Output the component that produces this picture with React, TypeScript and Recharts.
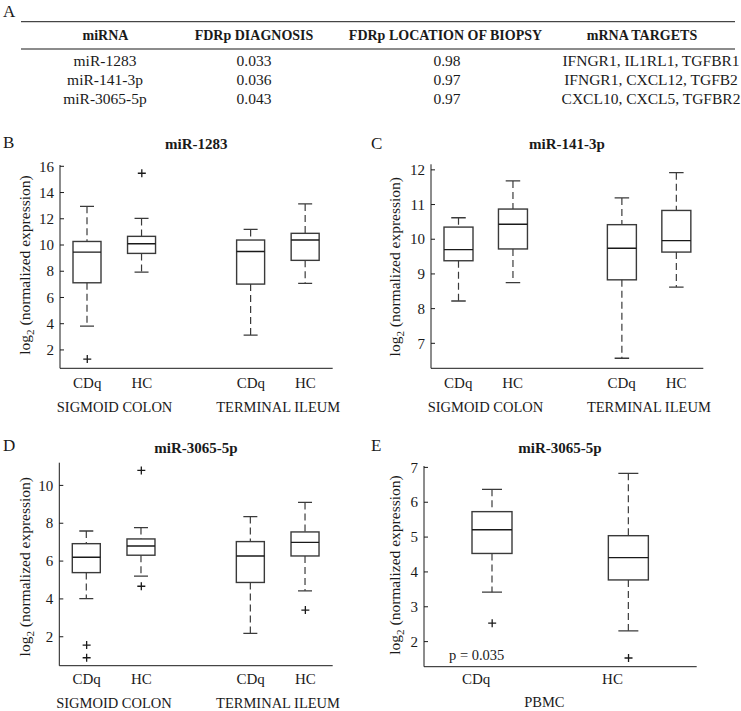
import React from 'react';
import { ComposedChart, Bar, Scatter, XAxis, YAxis } from 'recharts';

const SERIF = '"Liberation Serif", "Times New Roman", Times, serif';
const INK = '#1a1a1a';
const LINE = '#3a3a3a';

// ---------- Panel A: table ----------
const tableHeaders = ['miRNA', 'FDRp DIAGNOSIS', 'FDRp LOCATION OF BIOPSY', 'mRNA TARGETS'];
const tableMirna = ['miR-1283', 'miR-141-3p', 'miR-3065-5p'];
const tableFdrDiagnosis = ['0.033', '0.036', '0.043'];
const tableFdrLocation = ['0.98', '0.97', '0.97'];
const tableTargets = ['IFNGR1, IL1RL1, TGFBR1', 'IFNGR1, CXCL12, TGFB2', 'CXCL10, CXCL5, TGFBR2'];

// ---------- categories ----------
const biopsyCategories = ['CDq', 'HC', '', 'CDq', 'HC'];
// group label drawn under the HC tick of each pair, centred between the pair
const biopsyGroupAt = [1, 4];
const biopsyGroups = ['SIGMOID COLON', 'TERMINAL ILEUM'];
const pbmcCategories = ['CDq', 'HC'];
const pbmcGroupAt = [1];
const pbmcGroups = ['PBMC'];

// boxes: [lower whisker, Q1, median, Q3, upper whisker]
// ---------- Panel B: miR-1283 ----------
const mir1283Boxes = [
  [3.82, 7.12, 9.46, 10.27, 12.95],
  [7.94, 9.36, 10.1, 10.66, 12.03],
  null,
  [3.13, 7.02, 9.51, 10.38, 11.19],
  [7.07, 8.83, 10.38, 10.89, 13.13],
];
const mir1283Outliers = [[1.3], [15.47], [], [], []];
const mir1283Ticks = [2, 4, 6, 8, 10, 12, 14, 16];

// ---------- Panel C: miR-141-3p ----------
const mir141Boxes = [
  [8.22, 9.38, 9.7, 10.35, 10.62],
  [8.75, 9.72, 10.43, 10.87, 11.68],
  null,
  [6.57, 8.83, 9.74, 10.42, 11.19],
  [8.62, 9.63, 9.96, 10.83, 11.92],
];
const mir141Outliers = [[], [], [], [], []];
const mir141Ticks = [7, 8, 9, 10, 11, 12];

// ---------- Panel D: miR-3065-5p (biopsies) ----------
const mir3065Boxes = [
  [4.02, 5.39, 6.2, 6.92, 7.59],
  [5.2, 6.31, 6.8, 7.17, 7.77],
  null,
  [2.18, 4.87, 6.27, 7.03, 8.35],
  [4.43, 6.27, 6.99, 7.54, 9.1],
];
const mir3065Outliers = [[1.56, 0.89], [10.79, 4.67], [], [], [3.41]];
const mir3065Ticks = [2, 4, 6, 8, 10];

// ---------- Panel E: miR-3065-5p (PBMC) ----------
const pbmcBoxes = [
  [3.42, 4.53, 5.21, 5.73, 6.37],
  [2.31, 3.77, 4.41, 5.04, 6.83],
];
const pbmcOutliers = [[2.53], [1.53]];
const pbmcTicks = [2, 3, 4, 5, 6, 7];

function buildRows(categories: string[], boxes: (number[] | null)[], outliers: number[][]) {
  return categories.map((cat, i) => {
    const b = boxes[i];
    const o = outliers[i] || [];
    return {
      cat,
      range: b ? [b[0], b[4]] : null,
      stats: b,
      out1: o.length > 0 ? o[0] : null,
      out2: o.length > 1 ? o[1] : null,
    };
  });
}

const boxShape = (props: any) => {
  const { x, y, width, height, payload } = props;
  const s = payload && payload.stats;
  if (!s || ![x, y, width, height].every((v: any) => Number.isFinite(v))) return <g />;
  const [lo, q1, med, q3, hi] = s;
  const yHi = Math.min(y, y + height);
  const yLo = Math.max(y, y + height);
  const px = (v: number) => yHi + ((hi - v) / (hi - lo)) * (yLo - yHi);
  const cx = x + width / 2;
  const cap = width / 4;
  return (
    <g>
      <line x1={cx} x2={cx} y1={yHi} y2={px(q3)} stroke={LINE} strokeWidth={1.2} strokeDasharray="7 4" />
      <line x1={cx} x2={cx} y1={px(q1)} y2={yLo} stroke={LINE} strokeWidth={1.2} strokeDasharray="7 4" />
      <line x1={cx - cap} x2={cx + cap} y1={yHi} y2={yHi} stroke={LINE} strokeWidth={1.3} />
      <line x1={cx - cap} x2={cx + cap} y1={yLo} y2={yLo} stroke={LINE} strokeWidth={1.3} />
      <rect x={x} y={px(q3)} width={width} height={px(q1) - px(q3)} fill="none" stroke={LINE} strokeWidth={1.4} />
      <line x1={x} x2={x + width} y1={px(med)} y2={px(med)} stroke={INK} strokeWidth={1.4} />
    </g>
  );
};

const makePlus = (key: string) => (props: any) => {
  const { cx, cy, payload } = props;
  if (!payload || payload[key] == null || !Number.isFinite(cx) || !Number.isFinite(cy)) return <g />;
  return (
    <g>
      <line x1={cx - 4} x2={cx + 4} y1={cy} y2={cy} stroke={INK} strokeWidth={1.3} />
      <line x1={cx} x2={cx} y1={cy - 4} y2={cy + 4} stroke={INK} strokeWidth={1.3} />
    </g>
  );
};
const plus1 = makePlus('out1');
const plus2 = makePlus('out2');

const YTick = (props: any) => {
  const { x, y, payload } = props;
  return (
    <g>
      <line x1={x} x2={x + 4} y1={y} y2={y} stroke={INK} strokeWidth={1} />
      <text x={x - 6} y={y} dy="0.35em" textAnchor="end" fontFamily={SERIF} fontSize={15} fill={INK}>
        {payload.value}
      </text>
    </g>
  );
};

const makeXTick = (
  dx: number, dy: number, groupDy: number, bandwidth: number,
  groupAt: number[], groups: string[]
) => (props: any) => {
  const { x, y, payload } = props;
  const idx = props.index != null ? props.index : payload.index;
  const g = groupAt.indexOf(idx);
  return (
    <g>
      <text x={x + dx} y={y + dy} textAnchor="middle" fontFamily={SERIF} fontSize={15} fill={INK}>
        {payload.value}
      </text>
      {g >= 0 && (
        <text x={x - bandwidth / 2 + dx} y={y + groupDy} textAnchor="middle" fontFamily={SERIF} fontSize={14.5} fill={INK}>
          {groups[g]}
        </text>
      )}
    </g>
  );
};

type PanelProps = {
  left: number; top: number; width: number; height: number;
  plotLeft: number; plotRight: number; plotTop: number; plotBottom: number;
  rows: any[]; domain: [number, number]; ticks: number[]; barSize: number;
  groupAt: number[]; groups: string[];
  labelDx: number; tickDy: number; groupDy: number;
};

const XH = 42;

function BoxPanel(p: PanelProps) {
  const margin = {
    left: 0,
    right: p.left + p.width - p.plotRight,
    top: p.plotTop - p.top,
    bottom: p.top + p.height - p.plotBottom - XH,
  };
  const bandwidth = (p.plotRight - p.plotLeft) / p.rows.length;
  return (
    <div style={{ position: 'absolute', left: p.left, top: p.top, width: p.width, height: p.height }}>
      <ComposedChart width={p.width} height={p.height} data={p.rows} margin={margin}>
        <XAxis
          dataKey="cat"
          type="category"
          interval={0}
          height={XH}
          tickLine={false}
          tickSize={0}
          tickMargin={0}
          axisLine={{ stroke: INK, strokeWidth: 1 }}
          tick={makeXTick(p.labelDx, p.tickDy, p.groupDy, bandwidth, p.groupAt, p.groups)}
        />
        <YAxis
          type="number"
          domain={p.domain}
          ticks={p.ticks}
          allowDataOverflow
          width={p.plotLeft - p.left}
          tickLine={false}
          tickSize={0}
          tickMargin={0}
          axisLine={{ stroke: INK, strokeWidth: 1 }}
          tick={YTick}
        />
        <Bar dataKey="range" barSize={p.barSize} shape={boxShape} isAnimationActive={false} />
        <Scatter dataKey="out1" shape={plus1} isAnimationActive={false} />
        <Scatter dataKey="out2" shape={plus2} isAnimationActive={false} />
      </ComposedChart>
    </div>
  );
}

const YLabel = ({ x, y }: { x: number; y: number }) => (
  <text
    transform={`translate(${x},${y}) rotate(-90)`}
    textAnchor="middle"
    fontFamily={SERIF}
    fontSize={15.5}
    fill={INK}
  >
    log<tspan fontSize={11} dy={4}>2</tspan>
    <tspan dy={-4}> (normalized expression)</tspan>
  </text>
);

const headerCenters = [105.5, 254, 445.5, 642];
const rowCenters = [105, 254, 447, 651];
const rowBaselines = [65.5, 84.5, 103.5];

export default function App() {
  const tableColumns = [tableMirna, tableFdrDiagnosis, tableFdrLocation, tableTargets];
  return (
    <div style={{ position: 'absolute', left: 0, top: 0, width: 741, height: 711, background: '#fff', overflow: 'hidden' }}>
      <svg width={741} height={711} style={{ position: 'absolute', left: 0, top: 0 }}>
        {/* Panel A */}
        <text x={3} y={16.5} fontFamily={SERIF} fontSize={17} fill={INK}>A</text>
        <line x1={21} x2={735} y1={21.7} y2={21.7} stroke={INK} strokeWidth={1} />
        {tableHeaders.map((h, i) => (
          <text key={h} x={headerCenters[i]} y={40} textAnchor="middle" fontFamily={SERIF} fontSize={14} fontWeight="bold" fill={INK}>
            {h}
          </text>
        ))}
        <line x1={21} x2={735} y1={49} y2={49} stroke="#8c8c8c" strokeWidth={2} />
        {tableColumns.map((col, ci) =>
          col.map((v, ri) => (
            <text key={`${ci}-${ri}`} x={rowCenters[ci]} y={rowBaselines[ri]} textAnchor="middle" fontFamily={SERIF} fontSize={15.5} fill={INK}>
              {v}
            </text>
          ))
        )}
        {/* Panel letters */}
        <text x={3} y={148} fontFamily={SERIF} fontSize={17} fill={INK}>B</text>
        <text x={371} y={149} fontFamily={SERIF} fontSize={17} fill={INK}>C</text>
        <text x={3} y={450.7} fontFamily={SERIF} fontSize={17} fill={INK}>D</text>
        <text x={371} y={451} fontFamily={SERIF} fontSize={17} fill={INK}>E</text>
        {/* Titles */}
        <text x={196.3} y={149} textAnchor="middle" fontFamily={SERIF} fontSize={15} fontWeight="bold" fill={INK}>miR-1283</text>
        <text x={567} y={149} textAnchor="middle" fontFamily={SERIF} fontSize={15} fontWeight="bold" fill={INK}>miR-141-3p</text>
        <text x={196} y={453} textAnchor="middle" fontFamily={SERIF} fontSize={15} fontWeight="bold" fill={INK}>miR-3065-5p</text>
        <text x={560} y={453} textAnchor="middle" fontFamily={SERIF} fontSize={15} fontWeight="bold" fill={INK}>miR-3065-5p</text>
        {/* Y labels */}
        <YLabel x={29.5} y={265} />
        <YLabel x={399.5} y={266.7} />
        <YLabel x={29.5} y={566.7} />
        <YLabel x={399.5} y={565} />
        {/* p value */}
        <text x={449} y={659.5} fontFamily={SERIF} fontSize={14.5} fill={INK}>p = 0.035</text>
      </svg>

      <BoxPanel
        left={0} top={120} width={370} height={300}
        plotLeft={60} plotRight={332.7} plotTop={165} plotBottom={368.3}
        rows={buildRows(biopsyCategories, mir1283Boxes, mir1283Outliers)}
        domain={[0.6, 16.1]} ticks={mir1283Ticks} barSize={28}
        groupAt={biopsyGroupAt} groups={biopsyGroups}
        labelDx={0} tickDy={19.5} groupDy={43.5}
      />
      <BoxPanel
        left={370} top={120} width={371} height={300}
        plotLeft={431} plotRight={703.3} plotTop={164.3} plotBottom={368.3}
        rows={buildRows(biopsyCategories, mir141Boxes, mir141Outliers)}
        domain={[6.28, 12.16]} ticks={mir141Ticks} barSize={29}
        groupAt={biopsyGroupAt} groups={biopsyGroups}
        labelDx={0} tickDy={19.5} groupDy={43.5}
      />
      <BoxPanel
        left={0} top={420} width={370} height={291}
        plotLeft={59.3} plotRight={332.7} plotTop={462.7} plotBottom={665.7}
        rows={buildRows(biopsyCategories, mir3065Boxes, mir3065Outliers)}
        domain={[0.47, 11.2]} ticks={mir3065Ticks} barSize={28}
        groupAt={biopsyGroupAt} groups={biopsyGroups}
        labelDx={0} tickDy={18.5} groupDy={42.5}
      />
      <BoxPanel
        left={370} top={420} width={371} height={291}
        plotLeft={424} plotRight={696.7} plotTop={466} plotBottom={666.7}
        rows={buildRows(pbmcCategories, pbmcBoxes, pbmcOutliers)}
        domain={[1.28, 7.04]} ticks={pbmcTicks} barSize={40}
        groupAt={pbmcGroupAt} groups={pbmcGroups}
        labelDx={-16} tickDy={17} groupDy={40}
      />
    </div>
  );
}
